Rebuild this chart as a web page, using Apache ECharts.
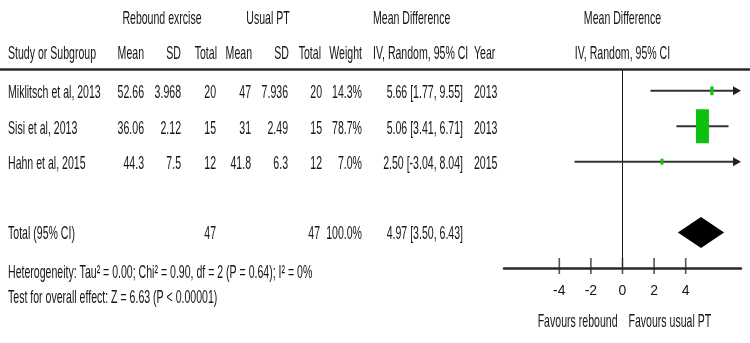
<!DOCTYPE html>
<html>
<head>
<meta charset="utf-8">
<script src="https://cdn.jsdelivr.net/npm/echarts@6/dist/echarts.min.js"></script>
<style>html,body{margin:0;padding:0;background:#fff}#c{width:750px;height:343px}</style>
</head>
<body>
<div id="c"></div>
<script>
// ---- data ----
const studies = ['Miklitsch et al, 2013', 'Sisi et al, 2013', 'Hahn et al, 2015'];
const expMean = [52.66, 36.06, 44.3];
const expSD = ['3.968', '2.12', '7.5'];
const expTotal = [20, 15, 12];
const ctlMean = [47, 31, 41.8];
const ctlSD = ['7.936', '2.49', '6.3'];
const ctlTotal = [20, 15, 12];
const weights = [14.3, 78.7, 7.0];
const meanDiff = [5.66, 5.06, 2.50];
const ciLow = [1.77, 3.41, -3.04];
const ciHigh = [9.55, 6.71, 8.04];
const years = [2013, 2013, 2015];
const pooled = [4.97, 3.50, 6.43]; // MD, low, high
const totalExp = 47, totalCtl = 47, totalWeight = 100.0;
const tickValues = [-4, -2, 0, 2, 4];
const heterogeneity = 'Heterogeneity: Tau\u00b2 = 0.00; Chi\u00b2 = 0.90, df = 2 (P = 0.64); I\u00b2 = 0%';
const overall = 'Test for overall effect: Z = 6.63 (P < 0.00001)';
const favLeft = 'Favours rebound', favRight = 'Favours usual PT';

// ---- layout ----
const XMIN = -7.5, XMAX = 7.5;
const FONT = '"Liberation Sans", Arial, sans-serif';
const TXT = '#151515';
const FS = 16;
const SX = 0.66, SY = 1.2;
const studyRows = studies.map((s, i) => i);
const totalRow = 4, axisRow = 5;
const maxW = Math.max(...weights);

const chart = echarts.init(document.getElementById('c'), null, {renderer: 'canvas'});

const studyData = studies.map((s, i) => [meanDiff[i], studyRows[i], ciLow[i], ciHigh[i], weights[i]]);

chart.setOption({
  animation: false,
  grid: {left: 504, width: 237, top: 0, height: 268},
  xAxis: {
    type: 'value', min: XMIN, max: XMAX,
    axisLine: {show: true, onZero: false, lineStyle: {color: '#2a2a2a', width: 2.5}},
    axisTick: {show: false},
    splitLine: {show: false},
    axisLabel: {customValues: tickValues, margin: 16, color: TXT, fontSize: 14, fontFamily: FONT}
  },
  yAxis: {type: 'value', inverse: true, min: -2.563, max: 5, show: false},
  series: [
    {
      type: 'line', data: [[0, -0.58], [0, axisRow]], symbol: 'none',
      lineStyle: {color: '#111', width: 1}, z: 1, silent: true
    },
    {
      type: 'scatter', data: tickValues.map(v => [v, axisRow]), symbol: 'rect',
      symbolSize: [1.6, 16], symbolOffset: [0, -2], itemStyle: {color: '#2a2a2a'}, z: 3, silent: true
    },
    {
      type: 'custom', data: studyData, z: 4, silent: true,
      renderItem: function (params, api) {
        const md = api.value(0), row = api.value(1), lo = api.value(2), hi = api.value(3), w = api.value(4);
        const c = api.coord([md, row]);
        const xl = api.coord([Math.max(lo, XMIN), row])[0];
        const xh = api.coord([Math.min(hi, XMAX), row])[0];
        const children = [];
        const clippedHi = hi > XMAX;
        children.push({type: 'line', shape: {x1: xl, y1: c[1], x2: clippedHi ? xh - 4 : xh, y2: c[1]},
          style: {stroke: '#333', lineWidth: 2}});
        if (clippedHi) {
          children.push({type: 'polygon', shape: {points: [[xh, c[1]], [xh - 8, c[1] - 4.5], [xh - 8, c[1] + 4.5]]},
            style: {fill: '#222'}});
        }
        const r = Math.pow(w / maxW, 0.8);
        const bw = Math.max(3, 13 * r), bh = Math.max(6, 34 * r);
        children.push({type: 'rect', shape: {x: c[0] - bw / 2, y: c[1] - bh / 2, width: bw, height: bh},
          style: {fill: '#10c010'}});
        return {type: 'group', children: children};
      }
    },
    {
      type: 'custom', data: [[pooled[0], totalRow, pooled[1], pooled[2]]], z: 4, silent: true,
      renderItem: function (params, api) {
        const c = api.coord([api.value(0), api.value(1)]);
        const xl = api.coord([api.value(2), api.value(1)])[0];
        const xh = api.coord([api.value(3), api.value(1)])[0];
        const hh = 15.5;
        return {type: 'polygon', shape: {points: [[xl, c[1]], [c[0], c[1] - hh], [xh, c[1]], [c[0], c[1] + hh]]},
          style: {fill: '#000'}};
      }
    }
  ]
});

// ---- table text ----
const yOf = row => chart.convertToPixel({yAxisIndex: 0}, row);
const x0 = chart.convertToPixel({xAxisIndex: 0}, 0);
const g = [];
function t(text, x, y, align) {
  g.push({type: 'text', x: x, y: y, scaleX: SX, scaleY: SY, silent: true,
    style: {text: String(text), x: 0, y: 0, fill: TXT, font: FS + 'px ' + FONT, textAlign: align || 'left', textVerticalAlign: 'middle'}});
}
const h1 = yOf(-2.03), h2 = yOf(-1.05);
t('Rebound exrcise', 162, h1, 'center');
t('Usual PT', 268, h1, 'center');
t('Mean Difference', 373, h1, 'left');
t('Mean Difference', x0, h1, 'center');
t('Study or Subgroup', 8, h2, 'left');
t('Mean', 144, h2, 'right');
t('SD', 181, h2, 'right');
t('Total', 217, h2, 'right');
t('Mean', 252, h2, 'right');
t('SD', 289, h2, 'right');
t('Total', 321, h2, 'right');
t('Weight', 362, h2, 'right');
t('IV, Random, 95% CI', 373, h2, 'left');
t('Year', 474, h2, 'left');
t('IV, Random, 95% CI', x0, h2, 'center');

studies.forEach((s, i) => {
  const y = yOf(studyRows[i]) + 2;
  t(s, 8, y, 'left');
  t(expMean[i], 144, y, 'right');
  t(expSD[i], 181, y, 'right');
  t(expTotal[i], 216, y, 'right');
  t(ctlMean[i], 251, y, 'right');
  t(ctlSD[i], 288, y, 'right');
  t(ctlTotal[i], 322, y, 'right');
  t(weights[i].toFixed(1) + '%', 362, y, 'right');
  t(meanDiff[i].toFixed(2) + ' [' + ciLow[i].toFixed(2) + ', ' + ciHigh[i].toFixed(2) + ']', 463, y, 'right');
  t(years[i], 474, y, 'left');
});
const ty = yOf(totalRow) + 1;
t('Total (95% CI)', 8, ty, 'left');
t(totalExp, 216, ty, 'right');
t(totalCtl, 320, ty, 'right');
t(totalWeight.toFixed(1) + '%', 362, ty, 'right');
t(pooled[0].toFixed(2) + ' [' + pooled[1].toFixed(2) + ', ' + pooled[2].toFixed(2) + ']', 463, ty, 'right');
t(heterogeneity, 8, yOf(5.12), 'left');
t(overall, 8, yOf(5.85), 'left');
t(favLeft, x0 - 5, 322, 'right');
t(favRight, x0 + 6, 322, 'left');

const hl = yOf(-0.6);
g.push({type: 'line', silent: true, shape: {x1: 0, y1: hl, x2: 750, y2: hl}, style: {stroke: '#2a2a2a', lineWidth: 2.5}});

chart.setOption({graphic: g});
</script>
</body>
</html>
